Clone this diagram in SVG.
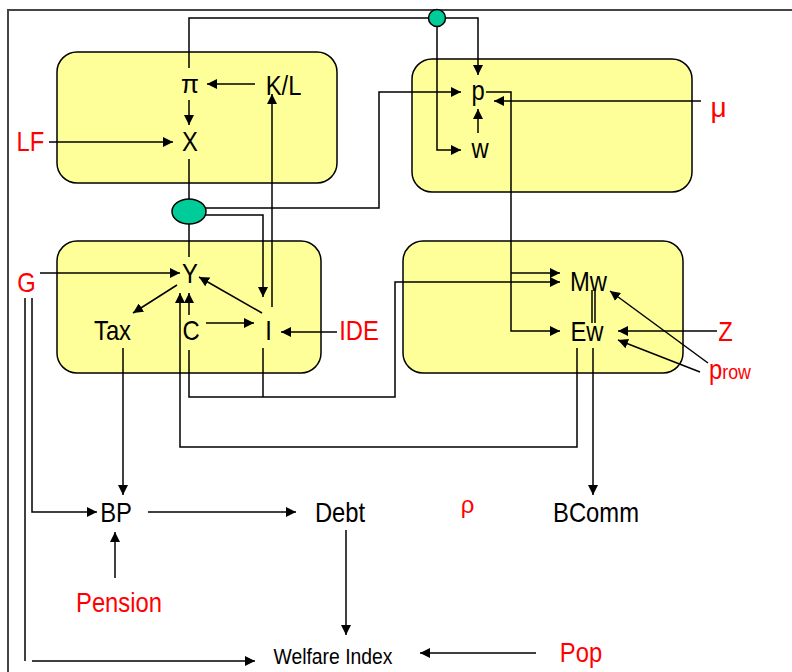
<svg xmlns="http://www.w3.org/2000/svg" width="792" height="672" viewBox="0 0 792 672">
<style>
.box{fill:#ffff99;stroke:#000;stroke-width:1.5}
.c{fill:none;stroke:#000;stroke-width:1.5}
.a{marker-end:url(#ah)}
.t{font-family:"Liberation Sans",Arial,sans-serif;font-size:28px;fill:#000;text-anchor:middle}
.r{fill:#ff0000}
.j{fill:#00cc99;stroke:#000;stroke-width:1.5}
</style>
<defs>
<marker id="ah" markerWidth="10" markerHeight="10" refX="10" refY="5" orient="auto" markerUnits="userSpaceOnUse"><path d="M0,0 L10,5 L0,10 z" fill="#000"/></marker>
</defs>
<rect width="792" height="672" fill="#fff"/>
<path d="M8,672 V10 H792" fill="none" stroke="#444" stroke-width="2"/>
<g id="boxes">
<rect id="box-tl" class="box" x="57" y="52" width="280" height="131" rx="20"/>
<rect id="box-tr" class="box" x="412" y="59" width="280" height="133" rx="20"/>
<rect id="box-ml" class="box" x="57" y="241" width="264" height="132" rx="20"/>
<rect id="box-mr" class="box" x="403" y="241" width="280" height="132" rx="20"/>
</g>
<g id="connectors">
<path class="c a" d="M189,68 V18 H478 V75"/>
<path class="c a" d="M437,18 V150 H461"/>
<path class="c a" d="M255,84 H207"/>
<path class="c a" d="M189,100 V125"/>
<path class="c a" d="M49,142 H173"/>
<path class="c" d="M189,159 V257"/>
<path class="c a" d="M205,208 H379 V92 H461"/>
<path class="c a" d="M205,215 H263 V297"/>
<path class="c a" d="M272,307 V94"/>
<path class="c a" d="M701,101 H494"/>
<path class="c a" d="M478,133 V109"/>
<path class="c a" d="M486,92 H511 V331 H560"/>
<path class="c a" d="M511,273 H560"/>
<path class="c a" d="M189,350 V397 H395 V282 H560"/>
<path class="c" d="M263,348 V397"/>
<path class="c a" d="M577,348 V447 H180 V293"/>
<path class="c a" d="M189,315 V293"/>
<path class="c a" d="M40,273 H180"/>
<path class="c a" d="M177,285 L133,313"/>
<path class="c a" d="M262,313 L199,277"/>
<path class="c a" d="M206,323 H254"/>
<path class="c a" d="M337,332 H281"/>
<path class="c" d="M592,290 V323 M595,290 V323"/>
<path class="c a" d="M593,348 V495"/>
<path class="c a" d="M717,331 H618"/>
<path class="c a" d="M708,363 L610,291"/>
<path class="c a" d="M700,372 L618,340"/>
<path class="c a" d="M123,348 V495"/>
<path class="c a" d="M32,298 V512 H97"/>
<path class="c" d="M25,298 V661"/>
<path class="c a" d="M32,661 H255"/>
<path class="c a" d="M148,512 H296"/>
<path class="c a" d="M115,578 V532"/>
<path class="c a" d="M346,530 V635"/>
<path class="c a" d="M536,653 H420"/>
</g>
<g id="junctions">
<circle id="j-top" class="j" cx="437" cy="18" r="8.5"/>
<ellipse id="j-mid" class="j" cx="189" cy="211.5" rx="17" ry="12.5"/>
</g>
<g id="n-pi"><text class="t" x="190" y="93" style="font-size:26px">π</text></g>
<g id="n-kl" transform="translate(283.5,95) scale(0.85,1)"><text class="t">K/L</text></g>
<g id="n-x" transform="translate(190,151) scale(0.85,1)"><text class="t">X</text></g>
<g id="n-lf" transform="translate(30.5,151) scale(0.85,1)"><text class="t r">LF</text></g>
<g id="n-p" transform="translate(478,100) scale(0.85,1)"><text class="t">p</text></g>
<g id="n-w" transform="translate(480,158) scale(0.85,1)"><text class="t">w</text></g>
<g id="n-mu"><text class="t r" x="718.5" y="117">μ</text></g>
<g id="n-y" transform="translate(190,283) scale(0.85,1)"><text class="t">Y</text></g>
<g id="n-g" transform="translate(26.5,292) scale(0.85,1)"><text class="t r">G</text></g>
<g id="n-tax" transform="translate(112.5,340) scale(0.85,1)"><text class="t">Tax</text></g>
<g id="n-c" transform="translate(191,340) scale(0.85,1)"><text class="t">C</text></g>
<g id="n-i" transform="translate(268.5,340) scale(0.85,1)"><text class="t">I</text></g>
<g id="n-ide" transform="translate(359,340) scale(0.85,1)"><text class="t r">IDE</text></g>
<g id="n-mw" transform="translate(588.5,291) scale(0.85,1)"><text class="t">Mw</text></g>
<g id="n-ew" transform="translate(587,341) scale(0.85,1)"><text class="t">Ew</text></g>
<g id="n-z" transform="translate(725.5,341) scale(0.85,1)"><text class="t r">Z</text></g>
<g id="n-prow" transform="translate(709,379) scale(0.85,1)"><text class="t r" style="text-anchor:start">p<tspan style="font-size:21px">row</tspan></text></g>
<g id="n-bp" transform="translate(116,522) scale(0.85,1)"><text class="t">BP</text></g>
<g id="n-debt" transform="translate(340,522) scale(0.85,1)"><text class="t">Debt</text></g>
<g id="n-rho"><text class="t r" x="467.5" y="513" style="font-size:24px">ρ</text></g>
<g id="n-bcomm" transform="translate(596,522) scale(0.85,1)"><text class="t">BComm</text></g>
<g id="n-pension" transform="translate(119,612) scale(0.85,1)"><text class="t r">Pension</text></g>
<g id="n-welfare" transform="translate(333,664) scale(0.88,1)"><text class="t" style="font-size:22px">Welfare Index</text></g>
<g id="n-pop" transform="translate(581,662) scale(0.85,1)"><text class="t r">Pop</text></g>
</svg>
